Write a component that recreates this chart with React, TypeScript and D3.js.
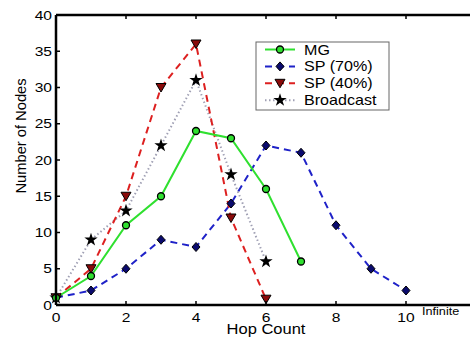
import React from "react";
import * as d3 from "d3";

const hopsMG = [0, 1, 2, 3, 4, 5, 6, 7];
const valuesMG = [1, 4, 11, 15, 24, 23, 16, 6];
const hopsSP70 = [0, 1, 2, 3, 4, 5, 6, 7, 8, 9, 10];
const valuesSP70 = [1, 2, 5, 9, 8, 14, 22, 21, 11, 5, 2];
const hopsSP40 = [0, 1, 2, 3, 4, 5, 6];
const valuesSP40 = [1, 5, 15, 30, 36, 12, 0.8];
const hopsBroadcast = [0, 1, 2, 3, 4, 5, 6];
const valuesBroadcast = [1, 9, 13, 22, 31, 18, 6];
const xTicks = [0, 2, 4, 6, 8, 10];
const yTicks = [0, 5, 10, 15, 20, 25, 30, 35, 40];
const seriesNames = ["MG", "SP (70%)", "SP (40%)", "Broadcast"];

const W = 470, H = 338;
const left = 56, top = 15, bottom = 305;
const x = d3.scaleLinear().domain([0, 12]).range([left, left + 420]);
const y = d3.scaleLinear().domain([0, 40]).range([bottom, top]);
const font = "Liberation Sans, Arial, sans-serif";

type S = { name: string; hops: number[]; vals: number[]; color: string; dash: string; width: number; marker: string; fill: string };
const series: S[] = [
  { name: seriesNames[1], hops: hopsSP70, vals: valuesSP70, color: "#1f22c8", dash: "7,5", width: 2, marker: "diamond", fill: "#0a0a6e" },
  { name: seriesNames[3], hops: hopsBroadcast, vals: valuesBroadcast, color: "#a0a0b4", dash: "1.5,2.5", width: 2, marker: "star", fill: "#000" },
  { name: seriesNames[2], hops: hopsSP40, vals: valuesSP40, color: "#dd2020", dash: "7,5", width: 2, marker: "tri", fill: "#8a0a0a" },
  { name: seriesNames[0], hops: hopsMG, vals: valuesMG, color: "#2fe02f", dash: "", width: 2, marker: "circle", fill: "#2fe02f" },
];

function Marker({ kind, cx, cy, fill }: { kind: string; cx: number; cy: number; fill: string }) {
  if (kind === "circle") return <circle cx={cx} cy={cy} r={3.5} fill={fill} stroke="#000" strokeWidth={1.3} />;
  if (kind === "diamond") return <path d={`M${cx},${cy - 4.5}L${cx + 4},${cy}L${cx},${cy + 4.5}L${cx - 4},${cy}Z`} fill={fill} stroke="#000" strokeWidth={1} />;
  if (kind === "tri") return <path d={`M${cx - 5},${cy - 4}L${cx + 5},${cy - 4}L${cx},${cy + 4.5}Z`} fill={fill} stroke="#000" strokeWidth={1} />;
  const star = d3.symbol().type(d3.symbolStar).size(55)();
  return <path d={star || ""} transform={`translate(${cx},${cy})`} fill="#000" />;
}

function T({ x: tx, y: ty, size, sx = 1.2, anchor = "start", rotate = 0, children }: { x: number; y: number; size: number; sx?: number; anchor?: string; rotate?: number; children: React.ReactNode }) {
  return (
    <text transform={`translate(${tx},${ty}) rotate(${rotate}) scale(${sx},1)`} fontSize={size} textAnchor={anchor}>
      {children}
    </text>
  );
}

export default function App() {
  const line = d3.line<[number, number]>().x((d) => x(d[0])).y((d) => y(d[1]));
  const legendOrder = [3, 0, 2, 1];
  return (
    <svg width={W} height={H} style={{ position: "absolute", left: 0, top: 0, background: "#fff" }} fontFamily={font}>
      {series.map((s) => (
        <path key={s.name} d={line(s.hops.map((h, i) => [h, s.vals[i]]) as [number, number][]) || ""} fill="none" stroke={s.color} strokeWidth={s.width} strokeDasharray={s.dash} />
      ))}
      {series.map((s) => s.hops.map((h, i) => <Marker key={s.name + i} kind={s.marker} cx={x(h)} cy={y(s.vals[i])} fill={s.fill} />))}
      {/* axes */}
      <line x1={left} x2={W} y1={top} y2={top} stroke="#000" strokeWidth={2.5} />
      <line x1={left} x2={W} y1={bottom} y2={bottom} stroke="#000" strokeWidth={2.5} />
      <line x1={left} x2={left} y1={top} y2={bottom} stroke="#000" strokeWidth={2.5} />
      {xTicks.map((t) => (
        <g key={"x" + t}>
          <line x1={x(t)} x2={x(t)} y1={bottom} y2={bottom - 4} stroke="#000" strokeWidth={1.5} />
          <line x1={x(t)} x2={x(t)} y1={top} y2={top + 4} stroke="#000" strokeWidth={1.5} />
          <T x={x(t)} y={bottom + 17} size={13} anchor="middle">{t}</T>
        </g>
      ))}
      {yTicks.map((t) => (
        <g key={"y" + t}>
          <line x1={left} x2={left + 4} y1={y(t)} y2={y(t)} stroke="#000" strokeWidth={1.5} />
          <T x={left - 4} y={y(t) + 4.5} size={13} anchor="end">{t}</T>
        </g>
      ))}
      <T x={422} y={315} size={11} sx={1.15}>Infinite</T>
      <T x={266} y={334} size={15} sx={1.1} anchor="middle">Hop Count</T>
      <T x={26} y={136} size={14} sx={1.05} anchor="middle" rotate={-90}>Number of Nodes</T>
      {/* legend */}
      <rect x={256} y={42} width={133} height={68} fill="#fff" stroke="#666" strokeWidth={1} />
      {legendOrder.map((si, i) => {
        const s = series[si];
        const ly = 49.5 + i * 16.9;
        return (
          <g key={"l" + si}>
            <line x1={265} x2={295} y1={ly} y2={ly} stroke={s.color} strokeWidth={2} strokeDasharray={s.dash} />
            <Marker kind={s.marker} cx={280} cy={ly} fill={s.fill} />
            <T x={304} y={ly + 5} size={14} sx={1.15}>{s.name}</T>
          </g>
        );
      })}
    </svg>
  );
}
